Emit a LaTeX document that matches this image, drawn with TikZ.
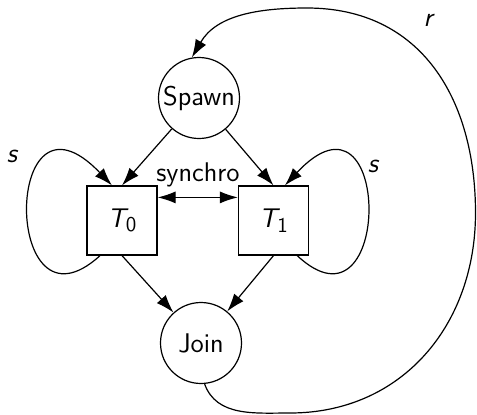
\documentclass[tikz,border=0pt]{standalone}
\usetikzlibrary{arrows.meta,calc}
\begin{document}
\begin{tikzpicture}[x=0.5pt,y=-0.5pt,
  every node/.style={font=\sffamily\fontsize{13.5}{15}\selectfont},
  state/.style={draw,circle,line width=0.6pt,minimum size=40.5pt,inner sep=0.5pt},
  task/.style={draw,rectangle,line width=0.6pt,minimum width=35pt,minimum height=34.5pt,inner sep=0pt},
  tip/.style={Latex[length=9pt,width=6pt]},
  arr/.style={line width=0.6pt,-{Latex[length=9pt,width=6pt]}},
  lab/.style={font=\sffamily\itshape\fontsize{13.5}{15}\selectfont,inner sep=0pt}]
\useasboundingbox (0,0) rectangle (477,414);
\node[state] (Spawn) at (199,98) {Spawn};
\node[state] (Join) at (201,343) {Join};
\node[task] (T0) at (122,220.5) {{\itshape T}\raisebox{-0.4ex}{\fontsize{10.5}{12}\selectfont 0}};
\node[task] (T1) at (273.5,220.5) {{\itshape T}\raisebox{-0.4ex}{\fontsize{10.5}{12}\selectfont 1}};
\draw[arr] (Spawn) -- (T0.north);
\draw[arr] (Spawn) -- (T1.north);
\draw[arr] (T0.south) -- (Join);
\draw[arr] (T1.south) -- (Join);
\draw[line width=0.6pt,{Latex[length=9pt,width=6pt]}-{Latex[length=9pt,width=6pt]}]
  ($(T0.north east)+(0,12)$) -- ($(T1.north west)+(0,12)$);
\node (sync) at (198,175) {synchro};
\draw[arr] (T0.-122) .. controls (2,345) and (2,70) .. (T0.106);
\draw[arr] (T1.-56) .. controls (393,345) and (393,70) .. (T1.72);
\node[lab] (s0) at (12,156) {s};
\node[lab] (s1) at (373,166) {s};
\draw[arr] (Join.-85) to[out=-70,in=180] (290,413)
  to[out=0,in=-90,looseness=1.05] (475.5,213)
  to[out=90,in=0,looseness=1.1] (307,8)
  to[out=180,in=60] (Spawn.100);
\node[lab] (r) at (428,20) {r};
\end{tikzpicture}
\end{document}
